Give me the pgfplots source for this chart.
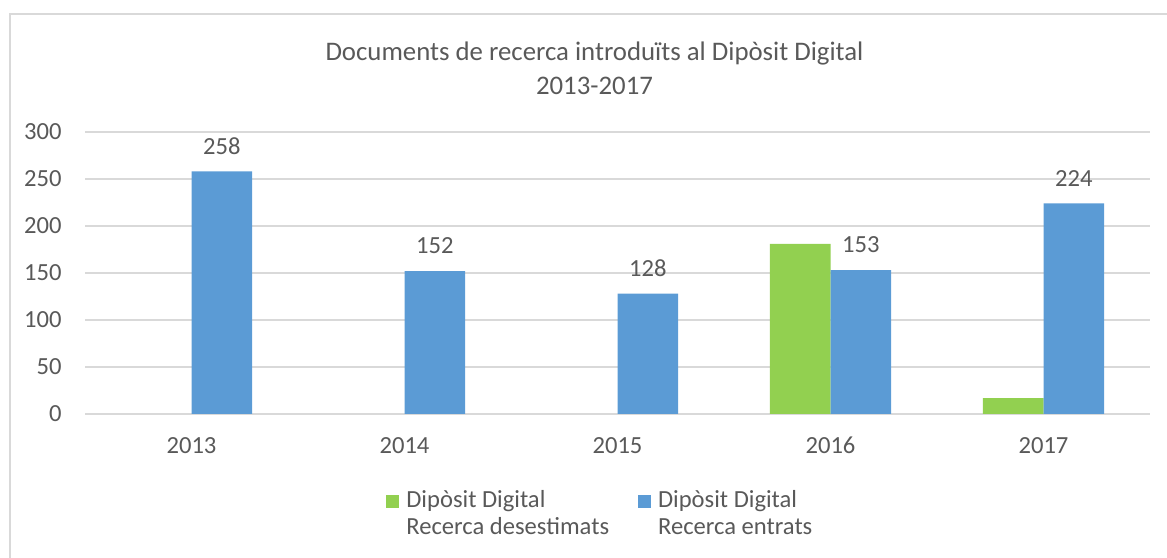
\documentclass[border=0pt]{standalone}
\usepackage{pgfplots}
\pgfplotsset{compat=1.18}
\usepackage{fontspec}
\setmainfont{Carlito}
\definecolor{cgreen}{HTML}{92D050}
\definecolor{cblue}{HTML}{5B9BD5}
\definecolor{ctext}{HTML}{595959}
\definecolor{cgrid}{HTML}{D9D9D9}
\newcommand\cf{\fontsize{12.3bp}{13.5bp}\selectfont}
\begin{document}
\begin{tikzpicture}
\useasboundingbox (0,0) rectangle (583.5bp,279bp);
\draw[cgrid, line width=0.75bp] (5bp,0) -- (5bp,272bp) -- (583.5bp,272bp);
\node[align=center, text=ctext, font=\fontsize{13.4bp}{17bp}\selectfont] at (297.25bp,245bp) {Documents de recerca introduïts al Dipòsit Digital\\2013-2017};
\begin{axis}[
  at={(42.5bp,72bp)}, anchor=south west,
  scale only axis, width=532.5bp, height=141bp,
  ybar=0pt, bar width=0.285,
  xmin=-0.5, xmax=4.5, ymin=0, ymax=300,
  xtick={0,1,2,3,4}, xticklabels={2013,2014,2015,2016,2017},
  ytick={0,50,100,150,200,250,300},
  major tick length=0pt,
  axis line style={draw=none},
  ymajorgrids, grid style={cgrid, line width=0.75bp},
  /pgf/number format/assume math mode=true,
  ticklabel style={font=\cf, text=ctext, inner sep=0pt},
  yticklabel style={anchor=east, xshift=-11.5bp},
  xticklabel style={anchor=base, yshift=-19.8bp},
  nodes near coords style={font=\cf, text=ctext, yshift=5bp},
  legend image code/.code={\draw[#1,draw=none] (0bp,0bp) rectangle (6.5bp,6.5bp);},
  legend columns=2,
  legend style={at={(rel axis cs:0.2826,-0.2637)}, anchor=north west, draw=none, fill=none, inner sep=0pt,
    font=\cf, text=ctext, column sep=3.5bp,
    nodes={inner sep=0pt, text depth=},
    cells={anchor=base west},
    /tikz/every even column/.append style={column sep=14.5bp}},
]
\addplot[fill=cgreen, draw=none] coordinates {(3,181) (4,17)};
\addlegendentry{\begin{tabular}[t]{@{}l@{}}Dipòsit Digital\\Recerca desestimats\end{tabular}}
\addplot[fill=cblue, draw=none, nodes near coords] coordinates {(0,258) (1,152) (2,128) (3,153) (4,224)};
\addlegendentry{\begin{tabular}[t]{@{}l@{}}Dipòsit Digital\\Recerca entrats\end{tabular}}
\end{axis}
\end{tikzpicture}
\end{document}
